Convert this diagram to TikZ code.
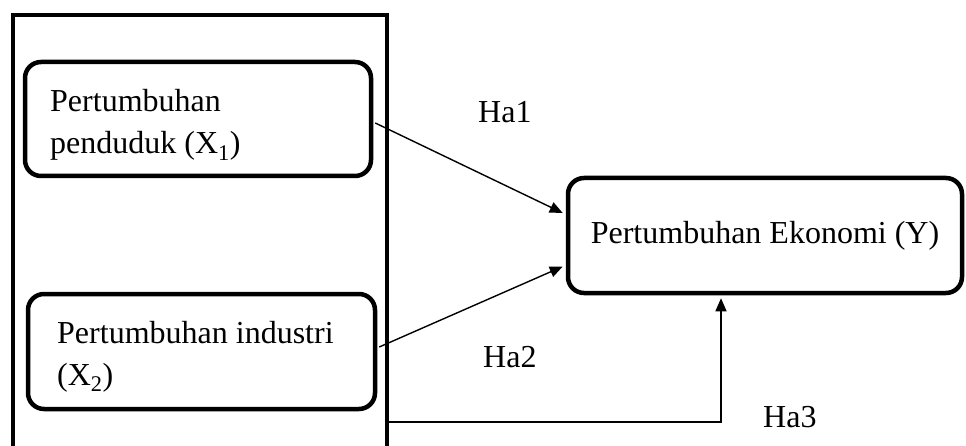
\documentclass[tikz,border=0pt]{standalone}
\usepackage{fontspec}
\setmainfont{Liberation Serif}
\usetikzlibrary{arrows.meta,calc}
\tikzset{
  varbox/.style={draw, line width=4.5pt, rounded corners=16pt, inner sep=0pt},
  frameline/.style={draw, line width=4.5pt, line join=miter},
  arr/.style={draw, line width=1.4pt, -{Triangle[length=13pt,width=11pt]}},
  lbl/.style={inner sep=0pt, anchor=base west, font=\fontsize{32}{42}\selectfont},
}
\begin{document}
\begin{tikzpicture}[x=1pt,y=-1pt]
\useasboundingbox (0,0) rectangle (966,446);
\clip (0,0) rectangle (966,446);
% outer frame (open at bottom)
\coordinate (fl) at (13,470);
\coordinate (fr) at (387,470);
\draw[frameline] (fl) |- (387,15) -- (fr);
% variable boxes
\node[varbox, minimum width=346pt, minimum height=114pt] (b1) at (198,119) {};
\node[varbox, minimum width=347pt, minimum height=115pt] (b2) at (201.5,351.5) {};
\node[varbox, minimum width=394pt, minimum height=115pt, font=\fontsize{32}{42}\selectfont] (Y) at (765,235.5) {Pertumbuhan Ekonomi (Y)};
% box texts
\node[lbl] (t1a) at (50,112) {Pertumbuhan};
\node[lbl] (t1b) at (50,154) {penduduk (X\textsubscript{1})};
\node[lbl] (t2a) at (57,343) {Pertumbuhan industri};
\node[lbl] (t2b) at (57,385) {(X\textsubscript{2})};
% connectors
\coordinate (s1) at ($(b1.east)+(2,4)$);
\coordinate (e1) at ($(Y.west)+(-3,-22.5)$);
\coordinate (s2) at ($(b2.east)+(2,-4.5)$);
\coordinate (e2) at ($(Y.west)+(-3,31)$);
\coordinate (s3) at (387,422);
\coordinate (e3) at ($(Y.south)+(-44,3)$);
\draw[arr] (s1) -- (e1);
\draw[arr] (s2) -- (e2);
\draw[arr] (s3) -| (e3);
% labels
\node[lbl] (h1) at (478,123) {Ha1};
\node[lbl] (h2) at (483,367) {Ha2};
\node[lbl] (h3) at (763,427) {Ha3};
\end{tikzpicture}
\end{document}
